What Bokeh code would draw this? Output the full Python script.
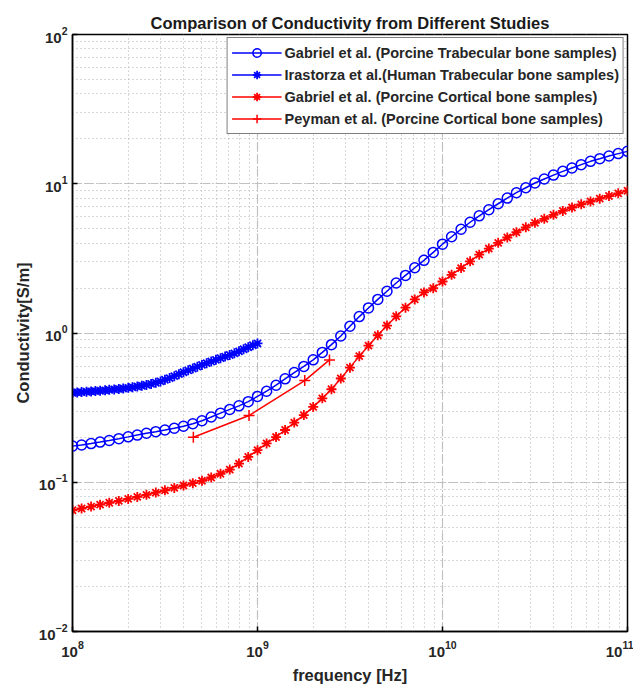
from bokeh.plotting import figure
from bokeh.models import ColumnDataSource, LogAxis
from bokeh.embed import file_html
from bokeh.resources import INLINE

# ---------------- data ----------------
# Gabriel et al. sampling frequencies (GHz)
gab_freq_ghz = [0.1, 0.112, 0.126, 0.141, 0.158, 0.178, 0.2, 0.224, 0.251, 0.282,
                0.316, 0.355, 0.398, 0.447, 0.501, 0.562, 0.631, 0.708, 0.794, 0.891,
                1.0, 1.12, 1.26, 1.41, 1.58, 1.78, 2.0, 2.24, 2.51, 2.82,
                3.16, 3.55, 3.98, 4.47, 5.01, 5.62, 6.31, 7.08, 7.94, 8.91,
                10, 11.2, 12.6, 14.1, 15.8, 17.8, 20, 22.4, 25.1, 28.2,
                31.6, 35.5, 39.8, 44.7, 50.1, 56.2, 63.1, 70.8, 79.4, 89.1, 100]

# Gabriel et al. (Porcine Trabecular) conductivity S/m
gab_trab = [0.1746, 0.1778, 0.1816, 0.1858, 0.1905, 0.1959, 0.2014, 0.2070, 0.2128, 0.2183,
            0.2239, 0.2301, 0.2371, 0.2466, 0.2582, 0.2735, 0.2904, 0.3076, 0.3251, 0.3467,
            0.3758, 0.4074, 0.4467, 0.4932, 0.5433, 0.5970, 0.6607, 0.7413, 0.8356, 0.9550,
            1.109, 1.288, 1.472, 1.679, 1.905, 2.163, 2.432, 2.735, 3.069, 3.467,
            3.936, 4.416, 4.955, 5.521, 6.095, 6.699, 7.345, 8.017, 8.710, 9.397,
            10.12, 10.76, 11.43, 12.11, 12.76, 13.43, 14.13, 14.72, 15.35, 15.92, 16.48]

# Gabriel et al. (Porcine Cortical) conductivity S/m
gab_cort = [0.0649, 0.0667, 0.0687, 0.0708, 0.0729, 0.0750, 0.0773, 0.0798, 0.0824, 0.0853,
            0.0883, 0.0916, 0.0951, 0.0986, 0.1023, 0.1076, 0.1140, 0.1216, 0.1334, 0.1479,
            0.1641, 0.1820, 0.2009, 0.2239, 0.2512, 0.2818, 0.3199, 0.3648, 0.4198, 0.4955,
            0.5861, 0.6998, 0.8222, 0.9661, 1.122, 1.294, 1.479, 1.679, 1.871, 1.995,
            2.213, 2.455, 2.723, 3.020, 3.350, 3.681, 4.018, 4.365, 4.732, 5.105,
            5.470, 5.821, 6.194, 6.577, 6.934, 7.278, 7.603, 7.943, 8.279, 8.630, 8.974]

# Irastorza et al. (Human Trabecular) frequencies (MHz) and conductivity S/m
ira_freq_mhz = [100, 106, 112, 119, 126, 133, 141, 150, 158, 168,
                178, 188, 200, 211, 224, 237, 251, 266, 282, 299,
                316, 335, 355, 376, 398, 422, 447, 473, 501, 531,
                562, 596, 631, 668, 708, 750, 794, 841, 891, 944, 1000]
ira_trab = [0.398, 0.400, 0.402, 0.404, 0.406, 0.408, 0.410, 0.413, 0.416, 0.419,
            0.422, 0.425, 0.429, 0.433, 0.438, 0.443, 0.449, 0.456, 0.464, 0.474,
            0.486, 0.499, 0.514, 0.530, 0.546, 0.562, 0.578, 0.595, 0.611, 0.628,
            0.644, 0.661, 0.678, 0.695, 0.712, 0.731, 0.754, 0.778, 0.803, 0.828, 0.851]

# Peyman et al. (Porcine Cortical)
pey_freq_ghz = [0.45, 0.9, 1.8, 2.45]
pey_cort = [0.20, 0.28, 0.48, 0.66]

labels = ["Gabriel et al. (Porcine Trabecular bone samples)",
          "Irastorza et al.(Human Trabecular bone samples)",
          "Gabriel et al. (Porcine Cortical bone samples)",
          "Peyman et al. (Porcine Cortical bone samples)"]

FONT = "Liberation Sans"

# ---------------- figure ----------------
p = figure(width=633, height=687, x_axis_type="log", y_axis_type="log",
           x_range=(1e8, 1e11), y_range=(1e-2, 1e2),
           output_backend="svg", toolbar_location=None,
           min_border_left=72, min_border_right=6, min_border_top=34, min_border_bottom=56)

p.title.text = "Comparison of Conductivity from Different Studies"
p.title.align = "center"
p.title.text_font = FONT
p.title.text_font_size = "16.5px"
p.title.text_font_style = "bold"
p.title.text_color = "#1a1a1a"
p.title.standoff = 6

p.background_fill_color = "white"
p.border_fill_color = "white"
p.outline_line_color = "black"
p.outline_line_width = 1.5

for ax in (p.xaxis[0], p.yaxis[0]):
    ax.axis_line_color = "black"
    ax.axis_line_width = 1.5
    ax.major_tick_in = 5
    ax.major_tick_out = 0
    ax.minor_tick_in = 0
    ax.minor_tick_out = 0
    ax.major_tick_line_color = "black"
    ax.major_tick_line_width = 1.5
    ax.major_label_text_font = FONT
    ax.major_label_text_font_style = "bold"
    ax.major_label_text_font_size = "15px"
    ax.major_label_text_color = "#262626"
    ax.axis_label_text_font = FONT
    ax.axis_label_text_font_style = "bold"
    ax.axis_label_text_font_size = "16.5px"
    ax.axis_label_text_color = "#262626"

p.xaxis.axis_label = "frequency [Hz]"
p.yaxis.axis_label = "Conductivity[S/m]"
p.xaxis.major_label_standoff = 9
p.yaxis.major_label_standoff = 5
p.xaxis.axis_label_standoff = 6
p.yaxis.axis_label_standoff = 4

for g in (p.xgrid[0], p.ygrid[0]):
    g.grid_line_color = "#c0c0c0"
    g.grid_line_dash = "8 5"
    g.grid_line_width = 1.2
    g.minor_grid_line_color = "#b0b0b0"
    g.minor_grid_line_dash = "1 3"
    g.minor_grid_line_width = 1

# ---------------- series ----------------
src_gt = ColumnDataSource(dict(f=[v * 1e9 for v in gab_freq_ghz], s=gab_trab))
src_it = ColumnDataSource(dict(f=[v * 1e6 for v in ira_freq_mhz], s=ira_trab))
src_gc = ColumnDataSource(dict(f=[v * 1e9 for v in gab_freq_ghz], s=gab_cort))
src_pc = ColumnDataSource(dict(f=[v * 1e9 for v in pey_freq_ghz], s=pey_cort))

BLUE = "#0000ff"
RED = "#ff0000"

p.line("f", "s", source=src_gt, color=BLUE, line_width=1.5, legend_label=labels[0])
p.scatter("f", "s", source=src_gt, marker="circle", size=10, line_color=BLUE,
          fill_color=None, line_width=1.5, legend_label=labels[0])

p.line("f", "s", source=src_it, color=BLUE, line_width=1.5, legend_label=labels[1])
p.scatter("f", "s", source=src_it, marker="asterisk", size=10, line_color=BLUE,
          line_width=1.8, legend_label=labels[1])

p.line("f", "s", source=src_gc, color=RED, line_width=1.5, legend_label=labels[2])
p.scatter("f", "s", source=src_gc, marker="asterisk", size=10, line_color=RED,
          line_width=1.8, legend_label=labels[2])

p.line("f", "s", source=src_pc, color=RED, line_width=1.5, legend_label=labels[3])
p.scatter("f", "s", source=src_pc, marker="cross", size=11, line_color=RED,
          line_width=1.5, legend_label=labels[3])

lg = p.legend[0]
lg.location = "top_right"
lg.border_line_color = "black"
lg.border_line_width = 1.5
lg.background_fill_color = "white"
lg.background_fill_alpha = 1.0
lg.label_text_font = FONT
lg.label_text_font_style = "bold"
lg.label_text_font_size = "14.5px"
lg.label_text_color = "#262626"
lg.glyph_width = 50
lg.glyph_height = 21
lg.label_height = 21
lg.label_standoff = 3
lg.spacing = 1
lg.padding = 4
lg.margin = 3

open("out.html", "w").write(file_html(p, INLINE))
